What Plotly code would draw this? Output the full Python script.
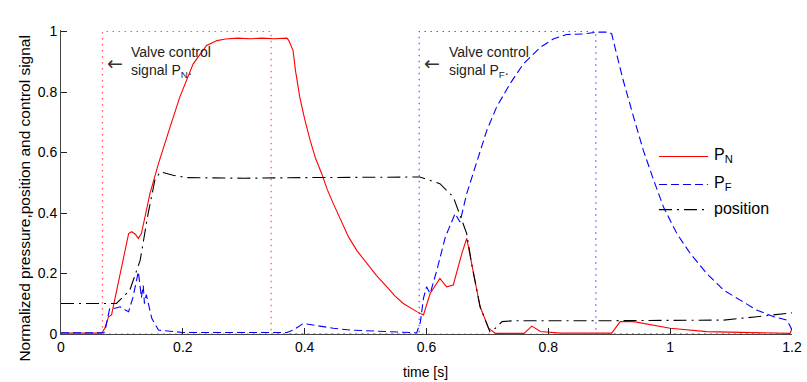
import plotly.graph_objects as go

# ---- data ----
pn_t = [0, 0.067, 0.072, 0.078, 0.083, 0.097, 0.111, 0.116, 0.122, 0.127, 0.132, 0.146, 0.160, 0.179,
        0.195, 0.217, 0.239, 0.256, 0.27, 0.29, 0.31, 0.33, 0.35, 0.371, 0.374, 0.381, 0.385, 0.392,
        0.400, 0.409, 0.418, 0.428, 0.437, 0.447, 0.458, 0.472, 0.486, 0.502, 0.518, 0.535, 0.548,
        0.562, 0.573, 0.584, 0.595, 0.606, 0.622, 0.633, 0.644, 0.658, 0.666, 0.674, 0.688, 0.702,
        0.713, 0.76, 0.773, 0.787, 0.82, 0.904, 0.918, 0.940, 1.0, 1.06, 1.197, 1.2]
pn_v = [0.003, 0.003, 0.02, 0.057, 0.063, 0.20, 0.332, 0.338, 0.330, 0.316, 0.332, 0.464, 0.563, 0.684,
        0.783, 0.893, 0.954, 0.970, 0.975, 0.978, 0.976, 0.978, 0.976, 0.978, 0.970, 0.937, 0.87, 0.783,
        0.71, 0.640, 0.58, 0.530, 0.478, 0.431, 0.38, 0.321, 0.275, 0.233, 0.193, 0.156, 0.126,
        0.101, 0.087, 0.074, 0.063, 0.134, 0.184, 0.156, 0.162, 0.266, 0.316, 0.233, 0.090, 0.019,
        0.002, 0.002, 0.026, 0.008, 0.003, 0.003, 0.041, 0.041, 0.019, 0.008, 0.002, 0.02]

pf_t = [0, 0.07, 0.072, 0.080, 0.089, 0.097, 0.105, 0.111, 0.118, 0.127, 0.132, 0.135, 0.137, 0.140,
        0.149, 0.160, 0.2, 0.3, 0.371, 0.381, 0.398, 0.425, 0.447, 0.475, 0.524, 0.584, 0.590, 0.595,
        0.600, 0.606, 0.617, 0.631, 0.647, 0.655, 0.666, 0.683, 0.699, 0.715, 0.737, 0.759, 0.787,
        0.808, 0.830, 0.858, 0.880, 0.899, 0.904, 0.912, 0.923, 0.940, 0.956, 0.973, 0.989, 1.011,
        1.033, 1.060, 1.088, 1.115, 1.142, 1.170, 1.192, 1.2]
pf_v = [0.004, 0.004, 0.008, 0.085, 0.085, 0.09, 0.08, 0.074, 0.12, 0.206, 0.12, 0.16, 0.10, 0.13,
        0.052, 0.013, 0.005, 0.005, 0.005, 0.013, 0.035, 0.026, 0.019, 0.013, 0.008, 0.004, 0.04, 0.118,
        0.156, 0.134, 0.211, 0.321, 0.398, 0.37, 0.464, 0.574, 0.673, 0.750, 0.827, 0.893, 0.948,
        0.975, 0.99, 0.992, 0.998, 0.998, 0.992, 0.926, 0.838, 0.717, 0.607, 0.508, 0.420, 0.332,
        0.266, 0.200, 0.145, 0.112, 0.079, 0.057, 0.046, 0.013]

pos_t = [0, 0.091, 0.113, 0.130, 0.143, 0.154, 0.163, 0.184, 0.206, 0.3, 0.4, 0.5, 0.589, 0.622, 0.644,
         0.658, 0.666, 0.674, 0.688, 0.704, 0.713, 0.724, 0.743, 0.9, 1.0, 1.088, 1.142, 1.192, 1.2]
pos_v = [0.101, 0.101, 0.145, 0.244, 0.398, 0.508, 0.536, 0.525, 0.517, 0.515, 0.517, 0.518, 0.519,
         0.497, 0.453, 0.376, 0.332, 0.233, 0.09, 0.008, 0.019, 0.041, 0.044, 0.044, 0.044, 0.046,
         0.057, 0.068, 0.07]

ctrl_n_t = [0, 0.068, 0.068, 0.345, 0.345, 1.2]
ctrl_n_v = [0, 0, 1, 1, 0, 0]
ctrl_f_t = [0, 0.588, 0.588, 0.878, 0.878, 1.2]
ctrl_f_v = [0, 0, 1, 1, 0, 0]

x_ticks = [0, 0.2, 0.4, 0.6, 0.8, 1.0, 1.2]
y_ticks = [0, 0.2, 0.4, 0.6, 0.8, 1.0]

legend_names = ["P<sub>N</sub>", "P<sub>F</sub>", "position"]

FONT = "Liberation Sans, Arial, sans-serif"
RED, BLUE, BLACK = "#ff0000", "#0000ff", "#000000"
DASH = "8px,4px"
DASHDOT = "13px,5px,2px,5px"

fig = go.Figure()
fig.add_trace(go.Scatter(x=ctrl_n_t, y=ctrl_n_v, mode="lines", showlegend=False,
                         line=dict(color="#ff5555", width=1.2, dash="1.5px,4.5px")))
fig.add_trace(go.Scatter(x=ctrl_f_t, y=ctrl_f_v, mode="lines", showlegend=False,
                         line=dict(color="#5555ff", width=1.2, dash="1.5px,4.5px")))
fig.add_trace(go.Scatter(x=pn_t, y=pn_v, mode="lines", name=legend_names[0], showlegend=False,
                         line=dict(color=RED, width=1.1)))
fig.add_trace(go.Scatter(x=pf_t, y=pf_v, mode="lines", name=legend_names[1], showlegend=False,
                         line=dict(color=BLUE, width=1.1, dash=DASH)))
fig.add_trace(go.Scatter(x=pos_t, y=pos_v, mode="lines", name=legend_names[2], showlegend=False,
                         line=dict(color=BLACK, width=1.1, dash=DASHDOT)))

# manual legend (no box), in paper coordinates
leg_y = [0.584, 0.492, 0.409]
leg_styles = [dict(color=RED, width=1.1), dict(color=BLUE, width=1.1, dash=DASH),
              dict(color=BLACK, width=1.1, dash=DASHDOT)]
for name, yy, st in zip(legend_names, leg_y, leg_styles):
    fig.add_shape(type="line", xref="paper", yref="paper", x0=0.818, x1=0.885, y0=yy, y1=yy, line=st)
    fig.add_annotation(xref="paper", yref="paper", x=0.890, y=yy + 0.004, text=name, showarrow=False,
                       xanchor="left", yanchor="middle", font=dict(family=FONT, size=16, color="#000"))

# annotations for valve control signals
for ax_, tx_, sub in [(0.073, 0.112, "N"), (0.592, 0.633, "F")]:
    fig.add_annotation(x=ax_, y=0.897, text="←", showarrow=False, xanchor="left", yanchor="middle",
                       font=dict(family="DejaVu Sans", size=19, color="#333"))
    fig.add_annotation(x=tx_, y=0.90, text="Valve control<br>signal P<sub>%s</sub>." % sub,
                       showarrow=False, xanchor="left", yanchor="middle", align="left",
                       font=dict(family=FONT, size=14, color="#222"))

# axis titles
fig.add_annotation(xref="paper", yref="paper", x=(14 - 61) / 731, y=0.447,
                   text="Normalized pressure,position and control signal", textangle=-90,
                   showarrow=False, font=dict(family=FONT, size=15.5, color="#000"))
fig.add_annotation(xref="paper", yref="paper", x=(425 - 61) / 731, y=-(372 - 334) / 304,
                   text="time [s]", showarrow=False, yanchor="middle",
                   font=dict(family=FONT, size=14, color="#000"))

axis_common = dict(showgrid=False, zeroline=False, showline=True, linecolor="#444", linewidth=1,
                   ticks="inside", ticklen=6, tickcolor="#222", mirror=False,
                   tickfont=dict(family=FONT, size=14, color="#000"))
fig.update_xaxes(range=[0, 1.2], tickvals=x_ticks, ticktext=["0", "0.2", "0.4", "0.6", "0.8", "1", "1.2"],
                 **axis_common)
fig.update_yaxes(range=[0, 1.005], tickvals=y_ticks, ticktext=["0", "0.2", "0.4", "0.6", "0.8", "1"],
                 **axis_common)

fig.update_layout(width=807, height=382, margin=dict(l=61, r=15, t=30, b=48, autoexpand=False),
                  plot_bgcolor="white", paper_bgcolor="white", showlegend=False,
                  font=dict(family=FONT, size=14, color="#000"))

fig.write_html("out.html")
